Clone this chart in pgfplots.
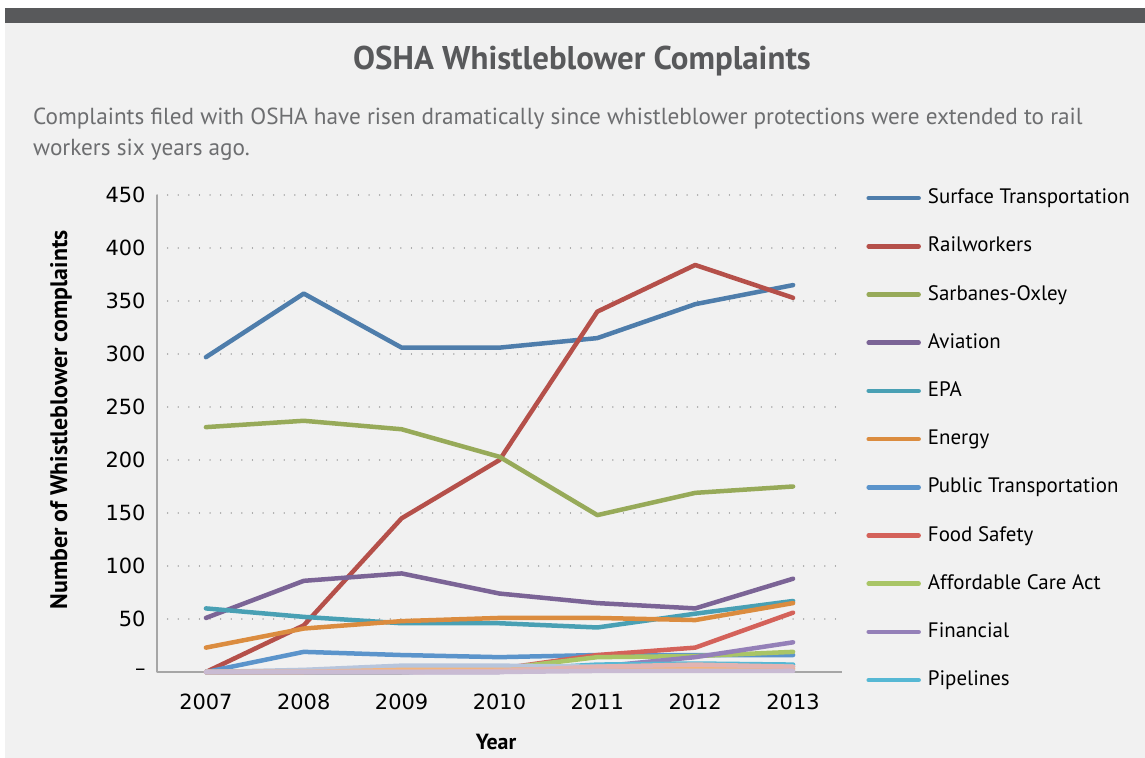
\documentclass[border=0pt]{standalone}
\usepackage{pgfplots}
\pgfplotsset{compat=1.18}
\usepackage{fontspec}
\setmainfont{PT Sans}
\newfontfamily\tickfont{DejaVu Sans}
\definecolor{bg}{HTML}{F1F1F1}
\definecolor{topbar}{HTML}{58595B}
\definecolor{titlec}{HTML}{58595B}
\definecolor{subc}{HTML}{6D6E70}
\definecolor{cST}{HTML}{4E7DAB}
\definecolor{cRW}{HTML}{B5504A}
\definecolor{cSO}{HTML}{97AA59}
\definecolor{cAV}{HTML}{7B6496}
\definecolor{cEPA}{HTML}{49A0B4}
\definecolor{cEN}{HTML}{DB8C3F}
\definecolor{cPT}{HTML}{5B94CB}
\definecolor{cFS}{HTML}{D4625A}
\definecolor{cACA}{HTML}{A9C566}
\definecolor{cFIN}{HTML}{9480B8}
\definecolor{cPIP}{HTML}{56B8D4}
\definecolor{cX1}{HTML}{B7C5DC}
\definecolor{cX2}{HTML}{E2B4B2}
\definecolor{cX3}{HTML}{F3B57E}
\definecolor{cX4}{HTML}{C9BBD3}
\begin{document}
\begin{tikzpicture}
\fill[white] (0,0) rectangle (1145bp,758bp);
\fill[bg] (5bp,0) rectangle (1145bp,735bp);
\fill[topbar] (5bp,735bp) rectangle (1145bp,750bp);
\node[text=titlec, font=\bfseries\fontsize{33}{40}\selectfont] at (582bp,697bp) {OSHA Whistleblower Complaints};
\node[text=subc, anchor=west, inner sep=0, font=\fontsize{23.3}{31}\selectfont, align=left] at (33bp,624bp)
  {Complaints filed with OSHA have risen dramatically since whistleblower protections were extended to rail\\workers six years ago.};
\node[rotate=90, font=\bfseries\fontsize{24}{28}\selectfont] at (61bp,338bp) {Number of Whistleblower complaints};
\node[font=\bfseries\fontsize{22}{26}\selectfont] at (496bp,16bp) {Year};
\begin{axis}[
  at={(157bp,86bp)}, anchor=south west,
  scale only axis, width=685bp, height=477bp,
  xmin=2006.5, xmax=2013.5, ymin=0, ymax=450,
  xtick={2007,...,2013},
  xticklabels={2007,2008,2009,2010,2011,2012,2013},
  ytick={0,50,...,450},
  yticklabels={\textendash,50,100,150,200,250,300,350,400,450},
  tick style={draw=none},
  ticklabel style={font=\tickfont\fontsize{21}{24}\selectfont, text=black},
  xticklabel style={yshift=-18bp},
  yticklabel style={xshift=-8bp},
  axis x line*=bottom, axis y line*=left,
  axis line style={draw=gray!70, line width=1.2bp, -},
  ymajorgrids, grid style={draw=gray!70, line width=1.3bp, dash pattern=on 0.1bp off 10.5bp, line cap=round},
  every axis plot/.append style={line width=4.5bp, line join=round, line cap=round, no marks},
  legend style={at={(1.031,1.018)}, anchor=north west, draw=none, fill=none,
    font=\fontsize{21}{24}\selectfont, row sep=29.2bp,
    nodes={inner sep=0pt, text height=15bp, text depth=4bp}},
  legend cell align=left,
  legend image code/.code={\draw[#1, line width=4.5bp, line cap=round] (0bp,0bp) -- (50bp,0bp); \path (57bp,0bp);},
  clip=false,
]
\addplot[cST] coordinates {(2007,297)(2008,357)(2009,306)(2010,306)(2011,315)(2012,347)(2013,365)};
\addlegendentry{Surface Transportation}
\addplot[cRW] coordinates {(2007,0)(2008,44)(2009,145)(2010,200)(2011,340)(2012,384)(2013,353)};
\addlegendentry{Railworkers}
\addplot[cSO] coordinates {(2007,231)(2008,237)(2009,229)(2010,203)(2011,148)(2012,169)(2013,175)};
\addlegendentry{Sarbanes-Oxley}
\addplot[cAV] coordinates {(2007,51)(2008,86)(2009,93)(2010,74)(2011,65)(2012,60)(2013,88)};
\addlegendentry{Aviation}
\addplot[cEPA] coordinates {(2007,60)(2008,52)(2009,46)(2010,46)(2011,42)(2012,55)(2013,67)};
\addlegendentry{EPA}
\addplot[cEN] coordinates {(2007,23)(2008,41)(2009,48)(2010,51)(2011,51)(2012,49)(2013,65)};
\addlegendentry{Energy}
\addplot[cPT] coordinates {(2007,0)(2008,19)(2009,16)(2010,14)(2011,16)(2012,16)(2013,16)};
\addlegendentry{Public Transportation}
\addplot[cFS] coordinates {(2007,0)(2008,0)(2009,0)(2010,3)(2011,16)(2012,23)(2013,56)};
\addlegendentry{Food Safety}
\addplot[cACA] coordinates {(2007,0)(2008,0)(2009,0)(2010,3)(2011,14)(2012,15)(2013,19)};
\addlegendentry{Affordable Care Act}
\addplot[cFIN] coordinates {(2007,0)(2008,0)(2009,0)(2010,0)(2011,5)(2012,14)(2013,28)};
\addlegendentry{Financial}
\addplot[cPIP] coordinates {(2007,0)(2008,0)(2009,0)(2010,2)(2011,7)(2012,8)(2013,7)};
\addlegendentry{Pipelines}
\addplot[cX1, forget plot] coordinates {(2007,0)(2008,2)(2009,6)(2010,6)(2011,5)(2012,5)(2013,5)};
\addplot[cX3, forget plot] coordinates {(2007,0)(2008,0)(2009,2)(2010,2)(2011,3)(2012,5)(2013,3)};
\addplot[cX2, forget plot] coordinates {(2007,0)(2008,0)(2009,0)(2010,1)(2011,5)(2012,7)(2013,5)};
\addplot[cX4, forget plot] coordinates {(2007,0)(2008,0)(2009,0)(2010,0)(2011,1)(2012,1)(2013,1)};
\end{axis}
\end{tikzpicture}
\end{document}
